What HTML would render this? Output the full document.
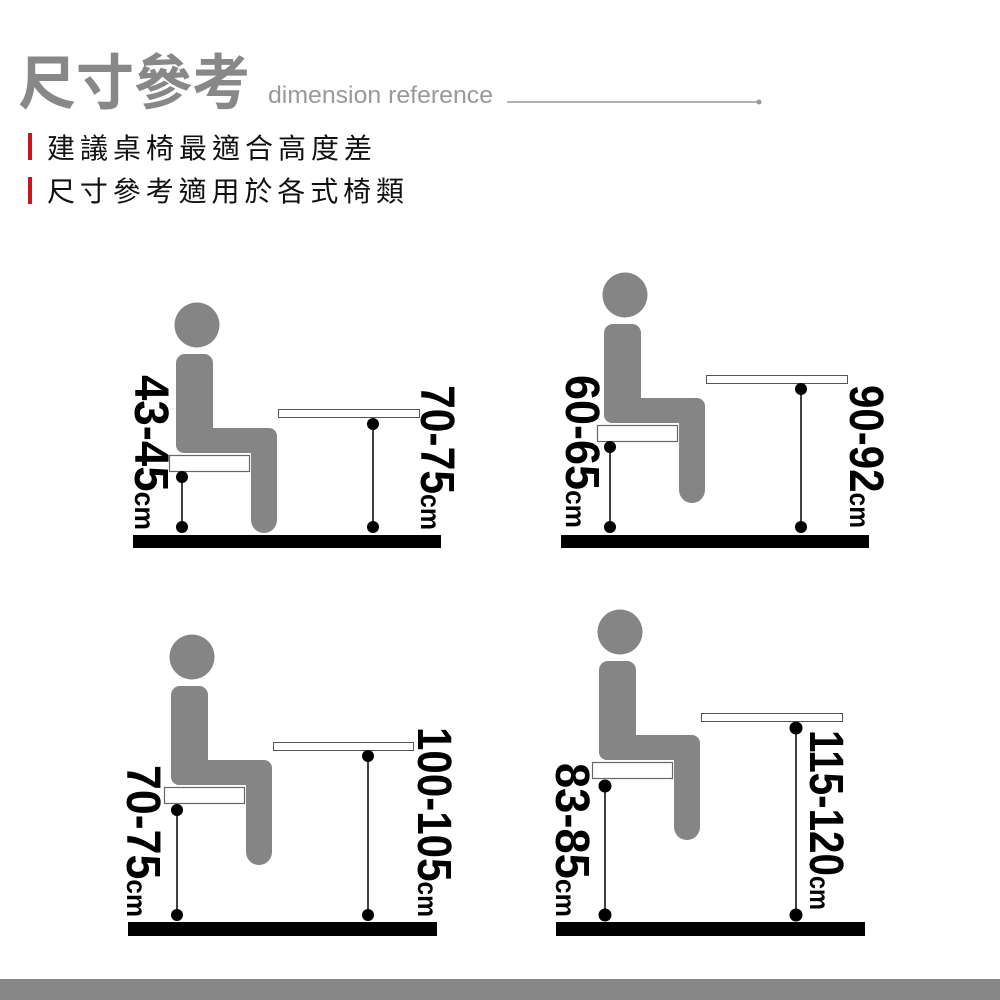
<!DOCTYPE html>
<html><head><meta charset="utf-8"><style>
html,body{margin:0;padding:0;background:#fff;}
body{width:1000px;height:1000px;overflow:hidden;position:relative;}
svg{position:absolute;left:0;top:0;}
</style></head><body>
<svg width="1000" height="1000" viewBox="0 0 1000 1000" xmlns="http://www.w3.org/2000/svg">
<defs>
<g id="body">
  <circle cx="0" cy="0" r="22.5" fill="#858585"/>
  <rect x="-21" y="29" width="37" height="99" rx="9" fill="#858585"/>
  <rect x="-21" y="103" width="101" height="25" rx="8" fill="#858585"/>
  <rect x="54" y="103" width="26" height="105" rx="13" fill="#858585"/>
  <rect x="-27.5" y="130.5" width="80" height="16" fill="#fff" stroke="#666" stroke-width="1.2"/>
</g>
</defs>
<text x="18" y="104" font-family="'Noto Sans CJK TC','Noto Sans CJK SC',sans-serif" font-weight="bold" font-size="60" fill="#888" textLength="232" lengthAdjust="spacingAndGlyphs">尺寸參考</text>
<text x="268" y="103" font-family="'Liberation Sans',sans-serif" font-size="24" fill="#999" textLength="225" lengthAdjust="spacingAndGlyphs">dimension reference</text>
<line x1="507" y1="102" x2="758" y2="102" stroke="#999" stroke-width="1.5"/>
<circle cx="759" cy="102" r="2.5" fill="#999"/>
<rect x="28" y="133" width="4" height="27" fill="#c8161d"/>
<rect x="28" y="177" width="4" height="27" fill="#c8161d"/>
<text x="47" y="158" font-family="'Noto Sans CJK TC','Noto Sans CJK SC',sans-serif" font-size="28" fill="#111" textLength="325" lengthAdjust="spacing">建議桌椅最適合高度差</text>
<text x="47" y="201" font-family="'Noto Sans CJK TC','Noto Sans CJK SC',sans-serif" font-size="28" fill="#111" textLength="357" lengthAdjust="spacing">尺寸參考適用於各式椅類</text>

<g font-family="'Liberation Sans',sans-serif" font-weight="bold" fill="#000">
<use href="#body" x="197" y="325"/>
<rect x="133" y="535" width="308" height="13" fill="#000"/>
<rect x="278.5" y="409.5" width="141" height="8" fill="#fff" stroke="#555" stroke-width="1"/>
<line x1="182" y1="477" x2="182" y2="527" stroke="#000" stroke-width="1.5"/>
<circle cx="182" cy="477" r="6"/><circle cx="182" cy="527" r="6"/>
<line x1="373" y1="424" x2="373" y2="527" stroke="#000" stroke-width="1.5"/>
<circle cx="373" cy="424" r="6"/><circle cx="373" cy="527" r="6"/>
<text transform="translate(135,375) rotate(90)" font-size="48" textLength="155" lengthAdjust="spacingAndGlyphs">43-45<tspan font-size="28">cm</tspan></text>
<text transform="translate(421,385) rotate(90)" font-size="48" textLength="145" lengthAdjust="spacingAndGlyphs">70-75<tspan font-size="28">cm</tspan></text>

<use href="#body" x="625" y="295"/>
<rect x="561" y="535" width="308" height="13" fill="#000"/>
<rect x="706.5" y="375.5" width="141" height="8" fill="#fff" stroke="#555" stroke-width="1"/>
<line x1="610" y1="447" x2="610" y2="527" stroke="#000" stroke-width="1.5"/>
<circle cx="610" cy="447" r="6"/><circle cx="610" cy="527" r="6"/>
<line x1="801" y1="389" x2="801" y2="527" stroke="#000" stroke-width="1.5"/>
<circle cx="801" cy="389" r="6"/><circle cx="801" cy="527" r="6"/>
<text transform="translate(566,375) rotate(90)" font-size="48" textLength="153" lengthAdjust="spacingAndGlyphs">60-65<tspan font-size="28">cm</tspan></text>
<text transform="translate(850,385) rotate(90)" font-size="48" textLength="143" lengthAdjust="spacingAndGlyphs">90-92<tspan font-size="28">cm</tspan></text>

<use href="#body" x="192" y="657"/>
<rect x="128" y="922" width="309" height="14" fill="#000"/>
<rect x="273.5" y="742.5" width="140" height="8" fill="#fff" stroke="#555" stroke-width="1"/>
<line x1="177" y1="810" x2="177" y2="915" stroke="#000" stroke-width="1.5"/>
<circle cx="177" cy="810" r="6"/><circle cx="177" cy="915" r="6"/>
<line x1="368" y1="756" x2="368" y2="915" stroke="#000" stroke-width="1.5"/>
<circle cx="368" cy="756" r="6"/><circle cx="368" cy="915" r="6"/>
<text transform="translate(127,765) rotate(90)" font-size="48" textLength="152" lengthAdjust="spacingAndGlyphs">70-75<tspan font-size="28">cm</tspan></text>
<text transform="translate(418,727) rotate(90)" font-size="48" textLength="190" lengthAdjust="spacingAndGlyphs">100-105<tspan font-size="28">cm</tspan></text>

<use href="#body" x="620" y="632"/>
<rect x="556" y="922" width="309" height="14" fill="#000"/>
<rect x="701.5" y="713.5" width="141" height="8" fill="#fff" stroke="#555" stroke-width="1"/>
<line x1="605" y1="786" x2="605" y2="915" stroke="#000" stroke-width="1.5"/>
<circle cx="605" cy="786" r="6.5"/><circle cx="605" cy="915" r="6.5"/>
<line x1="796" y1="728" x2="796" y2="915" stroke="#000" stroke-width="1.5"/>
<circle cx="796" cy="728" r="6.5"/><circle cx="796" cy="915" r="6.5"/>
<text transform="translate(556,763) rotate(90)" font-size="48" textLength="154" lengthAdjust="spacingAndGlyphs">83-85<tspan font-size="28">cm</tspan></text>
<text transform="translate(810,730) rotate(90)" font-size="48" textLength="180" lengthAdjust="spacingAndGlyphs">115-120<tspan font-size="28">cm</tspan></text>
</g>

<rect x="0" y="979" width="1000" height="21" fill="#878787"/>
</svg>
</body></html>
